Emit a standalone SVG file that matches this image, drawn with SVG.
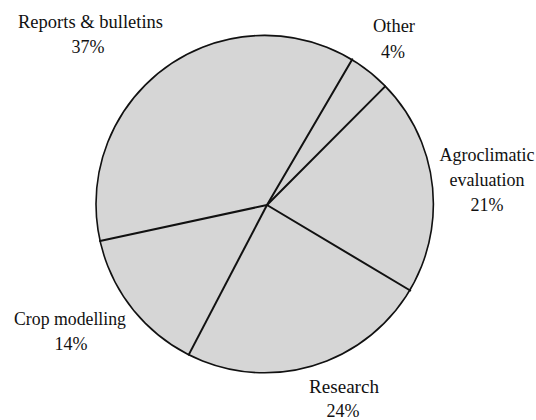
<svg xmlns="http://www.w3.org/2000/svg" width="536" height="420" viewBox="0 0 536 420">
<style>
.slice{fill:#d6d6d6;stroke:none}
.rim{fill:none;stroke:#111;stroke-width:1.6}
.spoke{stroke:#111;stroke-width:2;stroke-linecap:round}
.lbl{font-family:"Liberation Serif","DejaVu Serif","Times New Roman",serif;font-size:18px;fill:#111;text-anchor:middle}
</style>
<rect width="536" height="420" fill="#fff"/>
<g id="reports">
<path class="slice" d="M267,205 L100,241 A168.7,168.7 0 0 1 352.3,59.3 Z"/>
<text class="lbl" x="90.5" y="28" textLength="145" lengthAdjust="spacingAndGlyphs">Reports &amp; bulletins</text>
<text class="lbl" x="88" y="53">37%</text>
</g>
<g id="other">
<path class="slice" d="M267,205 L352.3,59.3 A168.7,168.7 0 0 1 385.2,86.4 Z"/>
<text class="lbl" x="394" y="32" textLength="42" lengthAdjust="spacingAndGlyphs">Other</text>
<text class="lbl" x="393" y="58">4%</text>
</g>
<g id="agroclimatic">
<path class="slice" d="M267,205 L385.2,86.4 A168.7,168.7 0 0 1 410.2,290.5 Z"/>
<text class="lbl" x="487" y="161" textLength="95" lengthAdjust="spacingAndGlyphs">Agroclimatic</text>
<text class="lbl" x="487" y="186" textLength="75" lengthAdjust="spacingAndGlyphs">evaluation</text>
<text class="lbl" x="487" y="211">21%</text>
</g>
<g id="research">
<path class="slice" d="M267,205 L410.2,290.5 A168.7,168.7 0 0 1 188.8,354.6 Z"/>
<text class="lbl" x="344" y="393" textLength="70" lengthAdjust="spacingAndGlyphs">Research</text>
<text class="lbl" x="343" y="417">24%</text>
</g>
<g id="crop">
<path class="slice" d="M267,205 L188.8,354.6 A168.7,168.7 0 0 1 100,241 Z"/>
<text class="lbl" x="70" y="325" textLength="112" lengthAdjust="spacingAndGlyphs">Crop modelling</text>
<text class="lbl" x="71" y="350">14%</text>
</g>
<g id="connectors">
<circle class="rim" cx="264.7" cy="204.1" r="168.7"/>
<line class="spoke" x1="267" y1="205" x2="352.3" y2="59.3"/>
<line class="spoke" x1="267" y1="205" x2="385.2" y2="86.4"/>
<line class="spoke" x1="267" y1="205" x2="410.2" y2="290.5"/>
<line class="spoke" x1="267" y1="205" x2="188.8" y2="354.6"/>
<line class="spoke" x1="267" y1="205" x2="100" y2="241"/>
</g>
</svg>
